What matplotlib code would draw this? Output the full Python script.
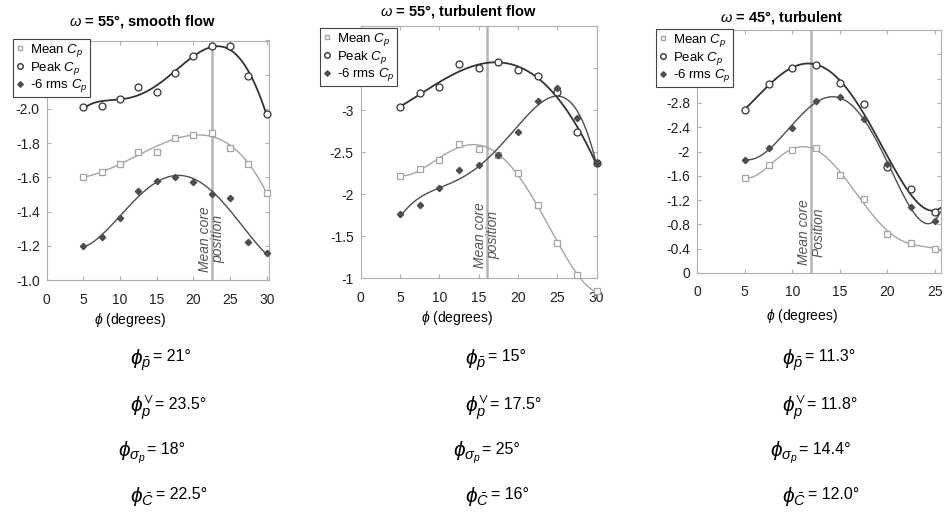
import numpy as np
import matplotlib
matplotlib.use("Agg")
import matplotlib.pyplot as plt
from matplotlib.lines import Line2D
from matplotlib.ticker import FixedFormatter

plt.rcParams['font.family'] = ['Liberation Sans', 'DejaVu Sans']
plt.rcParams['mathtext.fontset'] = 'custom'
plt.rcParams['mathtext.rm'] = 'Liberation Sans'
plt.rcParams['mathtext.it'] = 'Liberation Sans:italic'
plt.rcParams['mathtext.bf'] = 'Liberation Sans:bold'
plt.rcParams['mathtext.fallback'] = 'stixsans'

# --- data ---
phi1 = [5, 7.5, 10, 12.5, 15, 17.5, 20, 22.5, 25, 27.5, 30]
mean1 = [-1.60, -1.63, -1.68, -1.75, -1.75, -1.83, -1.85, -1.86, -1.77, -1.68, -1.51]
peak1 = [-2.01, -2.02, -2.06, -2.13, -2.10, -2.21, -2.31, -2.37, -2.37, -2.19, -1.97]
rms1 = [-1.20, -1.25, -1.36, -1.52, -1.58, -1.60, -1.57, -1.50, -1.48, -1.22, -1.16]

phi2 = [5, 7.5, 10, 12.5, 15, 17.5, 20, 22.5, 25, 27.5, 30]
mean2 = [-2.21, -2.30, -2.41, -2.59, -2.54, -2.47, -2.25, -1.87, -1.42, -1.04, -0.84]
peak2 = [-3.04, -3.20, -3.27, -3.55, -3.50, -3.57, -3.48, -3.40, -3.21, -2.74, -2.37]
rms2 = [-1.76, -1.87, -2.07, -2.29, -2.34, -2.47, -2.74, -3.11, -3.26, -2.90, -2.37]

phi3 = [5, 7.5, 10, 12.5, 15, 17.5, 20, 22.5, 25]
mean3 = [-1.57, -1.77, -2.02, -2.06, -1.61, -1.22, -0.64, -0.50, -0.40]
peak3 = [-2.69, -3.11, -3.37, -3.42, -3.13, -2.79, -1.74, -1.38, -1.01]
rms3 = [-1.86, -2.06, -2.39, -2.83, -2.90, -2.53, -1.80, -1.08, -0.86]

core = [22.5, 16, 12]
titles = [r'$\omega$ = 55°, smooth flow', r'$\omega$ = 55°, turbulent flow',
          r'$\omega$ = 45°, turbulent']
core_text = ['Mean core\nposition', 'Mean core\nposition', 'Mean core\nPosition']
# upper ticks sit under the legend box, so they carry no label
yticks1 = [-1.0, -1.2, -1.4, -1.6, -1.8, -2.0, -2.2, -2.4]
ylabels1 = ['-1.0', '-1.2', '-1.4', '-1.6', '-1.8', '-2.0', '', '']
yticks2 = [-1, -1.5, -2, -2.5, -3, -3.5, -4]
ylabels2 = ['-1', '-1.5', '-2', '-2.5', '-3', '', '']
yticks3 = [0, -0.4, -0.8, -1.2, -1.6, -2, -2.4, -2.8, -3.2, -3.6, -4]
ylabels3 = ['0', '-0.4', '-0.8', '-1.2', '-1.6', '-2', '-2.4', '-2.8', '', '', '']
phi_p = ['21°', '15°', '11.3°']
phi_pv = ['23.5°', '17.5°', '11.8°']
phi_sig = ['18°', '25°', '14.4°']
phi_c = ['22.5°', '16°', '12.0°']

W, H = 949, 515
fig = plt.figure(figsize=(W / 100, H / 100), dpi=100)


def px_axes(l, r, t, b):
    return fig.add_axes([l / W, 1 - b / H, (r - l) / W, (b - t) / H])


MEAN_C, PEAK_C, RMS_C = '#a5a5a5', '#333333', '#4d4d4d'

panels = [
    dict(box=(46.7, 269, 40.5, 280), xlim=(0, 30.3), ylim=(-1.0, -2.4),
         yt=yticks1, yl=ylabels1, phi=phi1, mean=mean1, peak=peak1, rms=rms1,
         deg=(4, 5, 4), xend=30, leg=(12.7, 39.3), title=(142, 22),
         xl=(130, 320), col=130),
    dict(box=(360.7, 597, 26, 278), xlim=(0, 30.05), ylim=(-1, -4),
         yt=yticks2, yl=ylabels2, phi=phi2, mean=mean2, peak=peak2, rms=rms2,
         deg=(4, 4, 4), xend=30, leg=(320, 28.3), title=(458, 12),
         xl=(457, 318), col=465),
    dict(box=(697.3, 941, 30, 273), xlim=(0, 25.65), ylim=(0, -4),
         yt=yticks3, yl=ylabels3, phi=phi3, mean=mean3, peak=peak3, rms=rms3,
         deg=(5, 5, 5), xend=25.6, leg=(656, 29.3), title=(782, 17),
         xl=(802, 316), col=782),
]

for i, p in enumerate(panels):
    ax = px_axes(*p['box'])
    ax.set_xlim(*p['xlim'])
    ax.set_ylim(*p['ylim'])
    ax.set_xticks([0, 5, 10, 15, 20, 25, 30] if i < 2 else [0, 5, 10, 15, 20, 25])
    ax.set_yticks(p['yt'])
    ax.yaxis.set_major_formatter(FixedFormatter(p['yl']))
    for s in ax.spines.values():
        s.set_color('#b0b0b0')
        s.set_linewidth(0.8)
    ax.tick_params(direction='in', length=3, color='#b0b0b0', labelsize=10,
                   labelcolor='#222222', top=True, right=True)
    ax.tick_params(axis='x', pad=9)
    ax.tick_params(axis='y', pad=5)

    ax.axvline(core[i], color='#b5b5b5', lw=1.8, zorder=1)
    ax.text(core[i], sum(p['ylim']) / 2 + (p['ylim'][0] - p['ylim'][1]) * 0.33,
            core_text[i], rotation=90, ha='center', va='center',
            fontsize=10, style='italic', color='#555555', linespacing=1.0)

    # smooth trend lines fitted to the markers
    x = np.array(p['phi'], float)
    xs = np.linspace(x[0], p['xend'], 200)
    for ys, col, dg, lw in [(p['mean'], MEAN_C, p['deg'][0], 1.0),
                            (p['peak'], PEAK_C, p['deg'][1], 1.3),
                            (p['rms'], RMS_C, p['deg'][2], 1.0)]:
        c = np.polyfit(x, ys, dg)
        ax.plot(xs, np.polyval(c, xs), color=col, lw=lw, clip_on=False, zorder=2)

    ax.plot(x, p['mean'], 's', ms=4.5, mfc='white', mec=MEAN_C, mew=0.9,
            clip_on=False, zorder=3)
    ax.plot(x, p['peak'], 'o', ms=5, mfc='white', mec=PEAK_C, mew=0.9,
            clip_on=False, zorder=3)
    ax.plot(x, p['rms'], 'D', ms=3.2, mfc=RMS_C, mec=RMS_C,
            clip_on=False, zorder=3)

    handles = [
        Line2D([], [], ls='', marker='s', ms=3.5, mfc='white', mec=MEAN_C),
        Line2D([], [], ls='', marker='o', ms=4, mfc='white', mec=PEAK_C),
        Line2D([], [], ls='', marker='D', ms=2.8, mfc=RMS_C, mec=RMS_C),
    ]
    lg = ax.legend(handles, ['Mean $C_p$', 'Peak $C_p$', '-6 rms $C_p$'],
                   loc='upper left',
                   bbox_to_anchor=(p['leg'][0] / W, 1 - p['leg'][1] / H),
                   bbox_transform=fig.transFigure, borderaxespad=0, fontsize=9.5,
                   handlelength=0.7, handletextpad=0.4, labelspacing=0.05,
                   borderpad=0.2, fancybox=False, framealpha=1,
                   edgecolor='#444444')
    lg.get_frame().set_linewidth(0.8)
    lg.set_zorder(10)

    fig.text(p['title'][0] / W, 1 - p['title'][1] / H, titles[i], ha='center',
             va='center', fontsize=10.5, weight='bold')
    fig.text(p['xl'][0] / W, 1 - p['xl'][1] / H, r'$\phi$ (degrees)', ha='center',
             va='center', fontsize=10)

    cx = p['col']
    rows = [(cx, 360, r'$\phi_{\bar{p}}$', phi_p[i]),
            (cx, 408, r'$\phi_{p}^{\vee}$', phi_pv[i]),
            (cx - 12, 453, r'$\phi_{\sigma_p}$', phi_sig[i]),
            (cx, 497, r'$\phi_{\bar{C}}$', phi_c[i])]
    for rx, ry, sym, val in rows:
        t = fig.text(rx / W, 1 - ry / H, sym, ha='left', va='center', fontsize=15)
        ax.annotate('= ' + val, xy=(1, 0.62), xycoords=t, xytext=(1, 0),
                    textcoords='offset points', ha='left', va='center',
                    fontsize=11.5, annotation_clip=False)

fig.savefig('out.png', dpi=100)
